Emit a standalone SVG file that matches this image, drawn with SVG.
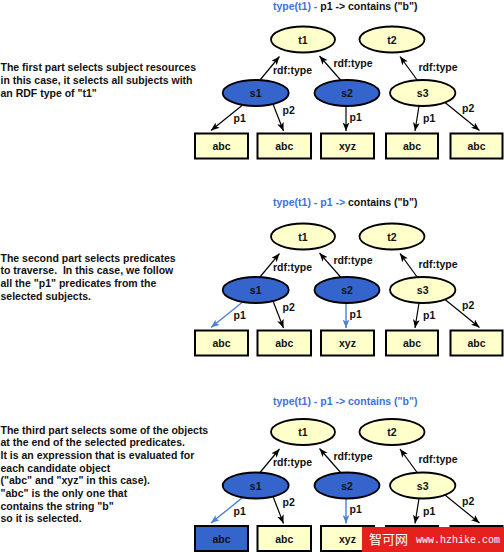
<svg xmlns="http://www.w3.org/2000/svg" width="504" height="552" viewBox="0 0 504 552">
<style>
text{font-family:"Liberation Sans",Arial,Helvetica,sans-serif;font-weight:bold;font-size:10.5px;fill:#111}
.c{text-anchor:middle}
.blue{fill:#3f72d6}
.yel{fill:#ffffcc;stroke:#000;stroke-width:1.8}
.sel{fill:#3565cc;stroke:#000;stroke-width:1.8}
.box{fill:#ffffcc;stroke:#000;stroke-width:2}
.boxsel{fill:#3565cc;stroke:#000;stroke-width:2}
.e{stroke:#000;stroke-width:1.2;fill:none;marker-end:url(#ah)}
.eb{stroke:#4a7fd8;stroke-width:1.4;fill:none;marker-end:url(#ahb)}
</style>
<defs>
<marker id="ah" viewBox="0 0 10 8" refX="10" refY="4" markerWidth="8.5" markerHeight="7" orient="auto" markerUnits="userSpaceOnUse"><path d="M0,0 L10,4 L0,8 L2.5,4 z" fill="#000"/></marker>
<marker id="ahb" viewBox="0 0 10 8" refX="10" refY="4" markerWidth="8.5" markerHeight="7" orient="auto" markerUnits="userSpaceOnUse"><path d="M0,0 L10,4 L0,8 L2.5,4 z" fill="#4a7fd8"/></marker>
</defs>
<rect width="504" height="552" fill="#fff"/>

<!-- Panel 1 -->
<g id="panel1">
<text x="273" y="9.5"><tspan class="blue">type(t1) -</tspan> p1 -&gt; contains ("b")</text>
<text x="0.5" y="70.5">The first part selects subject resources</text>
<text x="0.5" y="83.5">in this case, it selects all subjects with</text>
<text x="0.5" y="96.5">an RDF type of "t1"</text>
<g id="p1-connectors">
<path class="e" d="M260,80 L279.5,56.5"/>
<path class="e" d="M341,80.5 L319.5,56"/>
<path class="e" d="M417.5,80.5 L400,56.5"/>
<path class="e" d="M242,105.5 L211,130.5"/>
<path class="e" d="M273,104 L283.5,131"/>
<path class="e" d="M346,106 L346,131"/>
<path class="e" d="M419,106 L415,131"/>
<path class="e" d="M445,102.5 L479.5,130.5"/>
<text x="273" y="73.5">rdf:type</text>
<text x="333.5" y="67">rdf:type</text>
<text x="418.5" y="70.5">rdf:type</text>
<text x="233.5" y="122">p1</text>
<text x="282.5" y="113.5">p2</text>
<text x="349.5" y="120.5">p1</text>
<text x="423" y="122">p1</text>
<text x="462" y="112">p2</text>
</g>
<g id="p1-t1"><ellipse class="yel" cx="303" cy="39.5" rx="32" ry="13"/><text class="c" x="303" y="43.5">t1</text></g>
<g id="p1-t2"><ellipse class="yel" cx="392" cy="39.5" rx="32.5" ry="13"/><text class="c" x="392" y="43.5">t2</text></g>
<g id="p1-s1"><ellipse class="sel" cx="255.7" cy="93" rx="33" ry="13"/><text class="c" x="255.7" y="97">s1</text></g>
<g id="p1-s2"><ellipse class="sel" cx="347" cy="93" rx="32.5" ry="13"/><text class="c" x="347" y="97">s2</text></g>
<g id="p1-s3"><ellipse class="yel" cx="422.7" cy="93" rx="32.7" ry="13"/><text class="c" x="422.7" y="97">s3</text></g>
<g id="p1-o1"><rect class="box" x="195" y="133.5" width="53" height="25"/><text class="c" x="221.5" y="150">abc</text></g>
<g id="p1-o2"><rect class="box" x="257.5" y="133.5" width="53.5" height="25"/><text class="c" x="284.2" y="150">abc</text></g>
<g id="p1-o3"><rect class="box" x="321" y="133.5" width="53" height="25"/><text class="c" x="347.5" y="150">xyz</text></g>
<g id="p1-o4"><rect class="box" x="386" y="133.5" width="52" height="25"/><text class="c" x="412" y="150">abc</text></g>
<g id="p1-o5"><rect class="box" x="450.5" y="133.5" width="52" height="25"/><text class="c" x="476.5" y="150">abc</text></g>
</g>

<!-- Panel 2 -->
<g id="panel2">
<text x="273" y="206"><tspan class="blue">type(t1) - p1 -&gt;</tspan> contains ("b")</text>
<text x="0.5" y="261.5">The second part selects predicates</text>
<text x="0.5" y="274.2" xml:space="preserve">to traverse.  In this case, we follow</text>
<text x="0.5" y="286.9">all the "p1" predicates from the</text>
<text x="0.5" y="299.6">selected subjects.</text>
<g transform="translate(0,197)">
<g id="p2-connectors">
<path class="e" d="M260,80 L279.5,56.5"/>
<path class="e" d="M341,80.5 L319.5,56"/>
<path class="e" d="M417.5,80.5 L400,56.5"/>
<path class="eb" d="M242,105.5 L211,130.5"/>
<path class="e" d="M273,104 L283.5,131"/>
<path class="eb" d="M346,106 L346,131"/>
<path class="e" d="M419,106 L415,131"/>
<path class="e" d="M445,102.5 L479.5,130.5"/>
<text x="273" y="73.5">rdf:type</text>
<text x="333.5" y="67">rdf:type</text>
<text x="418.5" y="70.5">rdf:type</text>
<text x="233.5" y="122">p1</text>
<text x="282.5" y="113.5">p2</text>
<text x="349.5" y="120.5">p1</text>
<text x="423" y="122">p1</text>
<text x="462" y="112">p2</text>
</g>
<g id="p2-t1"><ellipse class="yel" cx="303" cy="39.5" rx="32" ry="13"/><text class="c" x="303" y="43.5">t1</text></g>
<g id="p2-t2"><ellipse class="yel" cx="392" cy="39.5" rx="32.5" ry="13"/><text class="c" x="392" y="43.5">t2</text></g>
<g id="p2-s1"><ellipse class="sel" cx="255.7" cy="93" rx="33" ry="13"/><text class="c" x="255.7" y="97">s1</text></g>
<g id="p2-s2"><ellipse class="sel" cx="347" cy="93" rx="32.5" ry="13"/><text class="c" x="347" y="97">s2</text></g>
<g id="p2-s3"><ellipse class="yel" cx="422.7" cy="93" rx="32.7" ry="13"/><text class="c" x="422.7" y="97">s3</text></g>
<g id="p2-o1"><rect class="box" x="195" y="133.5" width="53" height="25"/><text class="c" x="221.5" y="150">abc</text></g>
<g id="p2-o2"><rect class="box" x="257.5" y="133.5" width="53.5" height="25"/><text class="c" x="284.2" y="150">abc</text></g>
<g id="p2-o3"><rect class="box" x="321" y="133.5" width="53" height="25"/><text class="c" x="347.5" y="150">xyz</text></g>
<g id="p2-o4"><rect class="box" x="386" y="133.5" width="52" height="25"/><text class="c" x="412" y="150">abc</text></g>
<g id="p2-o5"><rect class="box" x="450.5" y="133.5" width="52" height="25"/><text class="c" x="476.5" y="150">abc</text></g>
</g>
</g>

<!-- Panel 3 -->
<g id="panel3">
<text x="273" y="405" class="blue">type(t1) - p1 -&gt; contains ("b")</text>
<text x="0.5" y="433.5">The third part selects some of the objects</text>
<text x="0.5" y="446.2">at the end of the selected predicates.</text>
<text x="0.5" y="458.9">It is an expression that is evaluated for</text>
<text x="0.5" y="471.6">each candidate object</text>
<text x="0.5" y="484.3">("abc" and "xyz" in this case).</text>
<text x="0.5" y="497">"abc" is the only one that</text>
<text x="0.5" y="509.7">contains the string "b"</text>
<text x="0.5" y="522.4">so it is selected.</text>
<g transform="translate(0,392.5)">
<g id="p3-connectors">
<path class="e" d="M260,80 L279.5,56.5"/>
<path class="e" d="M341,80.5 L319.5,56"/>
<path class="e" d="M417.5,80.5 L400,56.5"/>
<path class="eb" d="M242,105.5 L211,130.5"/>
<path class="e" d="M273,104 L283.5,131"/>
<path class="eb" d="M346,106 L346,131"/>
<path class="e" d="M419,106 L415,131"/>
<path class="e" d="M445,102.5 L479.5,130.5"/>
<text x="273" y="73.5">rdf:type</text>
<text x="333.5" y="67">rdf:type</text>
<text x="418.5" y="70.5">rdf:type</text>
<text x="233.5" y="122">p1</text>
<text x="282.5" y="113.5">p2</text>
<text x="349.5" y="120.5">p1</text>
<text x="423" y="122">p1</text>
<text x="462" y="112">p2</text>
</g>
<g id="p3-t1"><ellipse class="yel" cx="303" cy="39.5" rx="32" ry="13"/><text class="c" x="303" y="43.5">t1</text></g>
<g id="p3-t2"><ellipse class="yel" cx="392" cy="39.5" rx="32.5" ry="13"/><text class="c" x="392" y="43.5">t2</text></g>
<g id="p3-s1"><ellipse class="sel" cx="255.7" cy="93" rx="33" ry="13"/><text class="c" x="255.7" y="97">s1</text></g>
<g id="p3-s2"><ellipse class="sel" cx="347" cy="93" rx="32.5" ry="13"/><text class="c" x="347" y="97">s2</text></g>
<g id="p3-s3"><ellipse class="yel" cx="422.7" cy="93" rx="32.7" ry="13"/><text class="c" x="422.7" y="97">s3</text></g>
<g id="p3-o1"><rect class="boxsel" x="195" y="133.5" width="53" height="25"/><text class="c" x="221.5" y="150">abc</text></g>
<g id="p3-o2"><rect class="box" x="257.5" y="133.5" width="53.5" height="25"/><text class="c" x="284.2" y="150">abc</text></g>
<g id="p3-o3"><rect class="box" x="321" y="133.5" width="53" height="25"/><text class="c" x="347.5" y="150">xyz</text></g>
<g id="p3-o4"><rect class="box" x="386" y="133.5" width="52" height="25"/></g>
<g id="p3-o5"><rect class="box" x="450.5" y="133.5" width="52" height="25"/></g>
</g>
</g>

<g id="watermark">
<rect x="362" y="527" width="142" height="25" fill="#e5201d"/>
<text x="369" y="544" style="font-family:'Noto Sans CJK SC','Liberation Sans',sans-serif;font-weight:normal;font-size:13px;fill:#fff">智可网</text>
<text x="416" y="543" style="font-family:'Liberation Mono','DejaVu Sans Mono',monospace;font-weight:normal;font-size:10px;fill:#fff">www.hzhike.com</text>
</g>
</svg>
